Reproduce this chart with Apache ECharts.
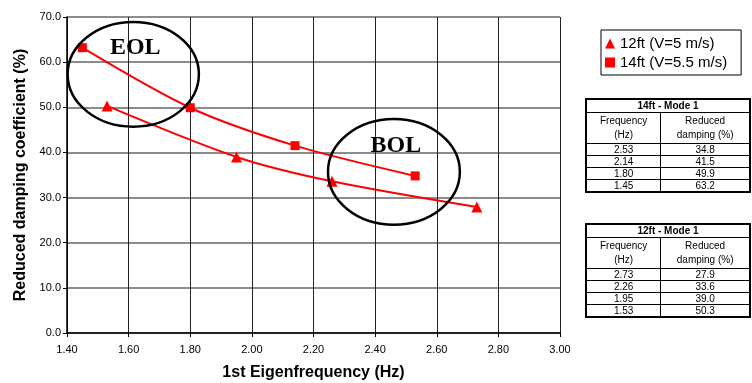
<!DOCTYPE html>
<html>
<head>
<meta charset="utf-8">
<script src="https://cdn.jsdelivr.net/npm/echarts@6/dist/echarts.min.js"></script>
<style>
  html, body { margin: 0; padding: 0; background: #fff; }
  #wrap { position: relative; width: 752px; height: 383px; }
  #chart { position: absolute; left: 0; top: 0; width: 752px; height: 383px; }
  table.tb {
    position: absolute; border-collapse: collapse; width: 166px;
    font-family: "Liberation Sans", Arial, sans-serif; font-size: 10px; color: #000;
    border: 2px solid #000;
  }
  table.tb td { border: 1px solid #000; text-align: center; padding: 0; line-height: 11px; height: 11px; }
  table.tb td.ttl { font-weight: bold; height: 12px; line-height: 12px; }
  table.tb td.hd { height: 30px; line-height: 14px; }
</style>
</head>
<body>
<div id="wrap">
  <div id="chart"></div>
  <table class="tb" id="t14" style="left:585px; top:98px;"></table>
  <table class="tb" id="t12" style="left:585px; top:223px;"></table>
</div>
<script type="text/javascript">
var freq12 = [2.73, 2.26, 1.95, 1.53];
var damp12 = [27.9, 33.6, 39.0, 50.3];
var freq14 = [2.53, 2.14, 1.80, 1.45];
var damp14 = [34.8, 41.5, 49.9, 63.2];
var name12 = "12ft (V=5 m/s)";
var name14 = "14ft (V=5.5 m/s)";
var xTicks = [1.4, 3.0, 0.2]; // min, max, interval
var yTicks = [0, 70, 10];
// annotation ellipses: [cx, cy, rx, ry] in data units
var eolZone = [1.615, 57.3, 0.213, 11.6];
var bolZone = [2.461, 35.7, 0.214, 11.7];

function pairs(xs, ys) {
  var out = [];
  for (var i = 0; i < xs.length; i++) out.push([xs[i], ys[i]]);
  out.sort(function(a, b) { return a[0] - b[0]; });
  return out;
}

function fillTable(id, title, xs, ys) {
  var t = document.getElementById(id);
  var html = '<tr><td class="ttl" colspan="2">' + title + '</td></tr>';
  html += '<tr><td class="hd">Frequency<br>(Hz)</td><td class="hd">Reduced<br>damping (%)</td></tr>';
  for (var i = 0; i < xs.length; i++) {
    html += '<tr><td>' + xs[i].toFixed(2) + '</td><td>' + ys[i].toFixed(1) + '</td></tr>';
  }
  t.innerHTML = html;
}
fillTable("t14", "14ft - Mode 1", freq14, damp14);
fillTable("t12", "12ft - Mode 1", freq12, damp12);

var myChart = echarts.init(document.getElementById("chart"));
var font = '"Liberation Sans", Arial, sans-serif';
var option = {
  animation: false,
  grid: { left: 67, right: 192, top: 17, bottom: 50, containLabel: false, outerBoundsMode: "none" },
  legend: {
    left: 601, top: 30, orient: "vertical",
    borderColor: "#000", borderWidth: 1, padding: [6, 14, 5, 4],
    itemGap: 4, itemWidth: 10, itemHeight: 10,
    textStyle: { fontFamily: font, fontSize: 15, color: "#000" },
    data: [{ name: name12, icon: "triangle" }, { name: name14, icon: "rect" }]
  },
  xAxis: {
    type: "value", min: xTicks[0], max: xTicks[1], interval: xTicks[2],
    name: "1st Eigenfrequency (Hz)", nameLocation: "middle", nameGap: 32,
    nameTextStyle: { fontFamily: font, fontSize: 16, fontWeight: "bold", color: "#000" },
    axisLine: { lineStyle: { color: "#000", width: 1.5 } },
    axisTick: { show: true, length: 4, lineStyle: { color: "#000" } },
    axisLabel: { fontFamily: font, fontSize: 11, color: "#000", margin: 11,
      formatter: function(v) { return v.toFixed(2); } },
    splitLine: { lineStyle: { color: "#222", width: 1 } }
  },
  yAxis: {
    type: "value", min: yTicks[0], max: yTicks[1], interval: yTicks[2],
    name: "Reduced damping coefficient (%)", nameLocation: "middle", nameGap: 38,
    nameTextStyle: { fontFamily: font, fontSize: 16, fontWeight: "bold", color: "#000" },
    axisLine: { show: true, lineStyle: { color: "#000", width: 1.5 } },
    axisTick: { show: true, length: 4, lineStyle: { color: "#000" } },
    axisLabel: { fontFamily: font, fontSize: 11, color: "#000", margin: 6,
      formatter: function(v) { return v.toFixed(1); } },
    splitLine: { lineStyle: { color: "#666", width: 1.5 } }
  },
  series: [
    {
      name: name12, type: "line", smooth: 0.3,
      data: pairs(freq12, damp12),
      symbol: "triangle", symbolSize: 11,
      lineStyle: { color: "#ff0000", width: 2 },
      itemStyle: { color: "#ff0000" }
    },
    {
      name: name14, type: "line", smooth: 0.3,
      data: pairs(freq14, damp14),
      symbol: "rect", symbolSize: 9,
      lineStyle: { color: "#ff0000", width: 2 },
      itemStyle: { color: "#ff0000" }
    }
  ]
};
myChart.setOption(option);

// ellipses + labels placed through the axes
function zone(z, label) {
  var c = myChart.convertToPixel({ gridIndex: 0 }, [z[0], z[1]]);
  var e = myChart.convertToPixel({ gridIndex: 0 }, [z[0] + z[2], z[1] + z[3]]);
  var rx = e[0] - c[0], ry = c[1] - e[1];
  return [
    { type: "ellipse", shape: { cx: c[0], cy: c[1], rx: rx, ry: ry },
      style: { fill: null, stroke: "#000", lineWidth: 2.5 }, z: 10 },
    { type: "text", x: c[0] + 2, y: c[1] - ry * 0.5,
      style: { text: label, fontFamily: '"Liberation Serif", "Times New Roman", serif',
        fontSize: 24, fontWeight: "bold", fill: "#000", align: "center", verticalAlign: "middle" }, z: 10 }
  ];
}
myChart.setOption({ graphic: zone(eolZone, "EOL").concat(zone(bolZone, "BOL")) });
</script>
</body>
</html>
